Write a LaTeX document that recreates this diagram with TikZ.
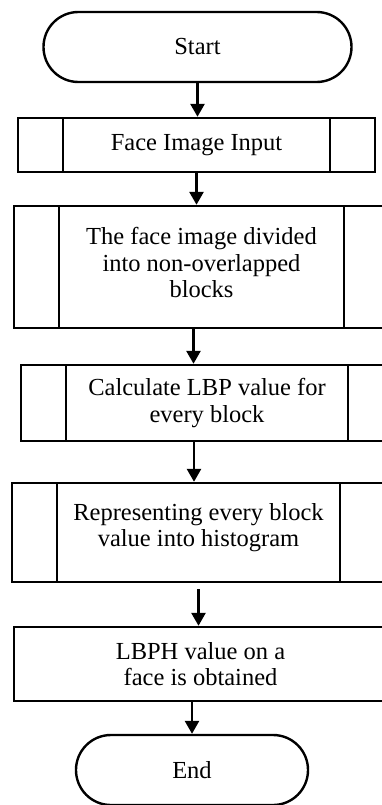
\documentclass[tikz,border=0pt]{standalone}
\usepackage{fontspec}
\setmainfont{Liberation Serif}
\usetikzlibrary{arrows.meta}
\definecolor{inkblack}{HTML}{000000}

\tikzset{
  boxfont/.style={font=\fontsize{24.5}{26.5}\selectfont},
  terminal/.style={draw=inkblack, line width=2.4pt, boxfont, rounded corners=34.9pt,
    minimum height=70pt, inner sep=0pt},
  procbox/.style={draw=inkblack, line width=2.4pt, boxfont, align=center, inner sep=0pt},
  subproc/.style={procbox, path picture={
      \draw[inkblack, line width=2.4pt]
        ([xshift=45pt]path picture bounding box.north west) --
        ([xshift=45pt]path picture bounding box.south west);
      \draw[inkblack, line width=2.4pt]
        ([xshift=-45pt]path picture bounding box.north east) --
        ([xshift=-45pt]path picture bounding box.south east);}},
  flow/.style={inkblack, line width=2.6pt, -{Triangle[length=13pt,width=14pt]}}
}

\begin{document}
\begin{tikzpicture}[x=1pt, y=-1pt]

    % =================================================================
    % PAGE
    % =================================================================
    \fill[white] (0,0) rectangle (381,805);
    \useasboundingbox (0,0) rectangle (381,805);

    % =================================================================
    % STEPS
    % =================================================================
    \node[terminal, minimum width=308pt] (start) at (197.5,47) {Start};
    \node[subproc, minimum width=357pt, minimum height=54pt] (input) at (196.5,145)
        {Face Image Input};
    \node[subproc, minimum width=375pt, minimum height=122pt, text depth=8.5pt] (divide) at (201.5,267)
        {The face image divided\\into non-overlapped\\blocks};
    \node[subproc, minimum width=372pt, minimum height=76pt] (calc) at (207,403)
        {Calculate LBP value for\\every block};
    \node[subproc, minimum width=373pt, minimum height=99pt, text depth=15pt] (hist) at (198.5,532.5)
        {Representing every block\\value into histogram};
    \node[procbox, minimum width=373pt, minimum height=74pt] (lbph) at (200.5,664)
        {LBPH value on a\\face is obtained};
    \node[terminal, minimum width=232pt] (stop) at (192,770) {End};

    % =================================================================
    % FLOW
    % =================================================================
    \draw[flow] (start.south) -- (start.south |- input.north);
    \draw[flow] (input.south) -- (input.south |- divide.north);
    \draw[flow] ([xshift=-8pt]divide.south) -- ([xshift=-8pt]divide.south |- calc.north);
    \draw[flow] ([xshift=-13pt]calc.south) -- ([xshift=-13pt]calc.south |- hist.north);
    \draw[flow, shorten <=6pt] (hist.south) -- (hist.south |- lbph.north);
    \draw[flow] ([xshift=-8.5pt]lbph.south) -- ([xshift=-8.5pt]lbph.south |- stop.north);

\end{tikzpicture}
\end{document}
